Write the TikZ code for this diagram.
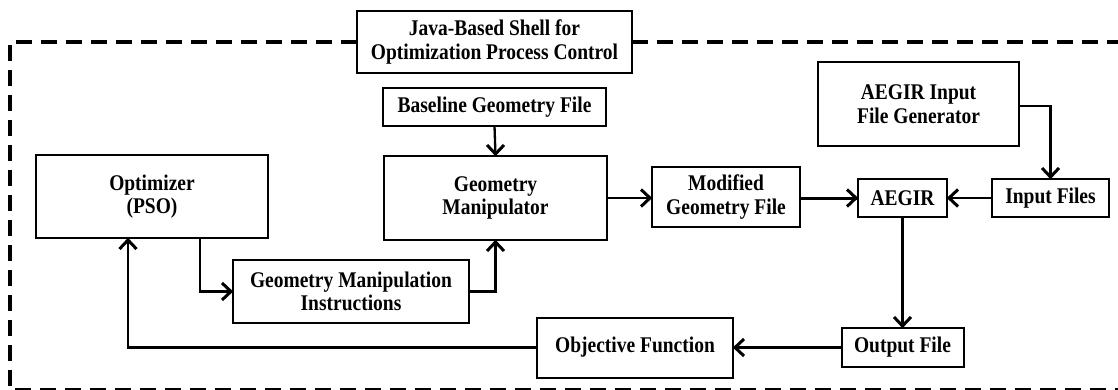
\documentclass[tikz,border=0pt]{standalone}
\usepackage{fontspec}
\setmainfont{Liberation Serif}[FakeStretch=0.87]
\usetikzlibrary{calc}
\newcommand\barbat[2]{\draw[barbline,shift={(#1)},rotate=#2] (-11,-8.5) -- (-2,0) -- (-11,8.5);}
\begin{document}
\begin{tikzpicture}[x=1pt,y=-1pt,
  box/.style={draw,line width=2pt,inner sep=0pt,outer sep=0pt,align=center,
     font=\bfseries\fontsize{22.4}{23.5}\selectfont},
  arr/.style={line width=2.3pt},
  thickarr/.style={line width=3pt},
  barbline/.style={line width=3pt,miter limit=10},
  frame/.style={line width=3.8pt,dash pattern=on 16pt off 9pt}]
\useasboundingbox (0,0) rectangle (1118,390);
% boxes
\node[box,minimum width=275pt,minimum height=62pt] (java) at (494.5,42) {Java-Based Shell for\\Optimization Process Control};
\node[box,minimum width=223pt,minimum height=38pt] (base) at (494.5,107) {Baseline Geometry File};
\node[box,minimum width=223pt,minimum height=84pt] (gm) at (495.5,198) {Geometry\\Manipulator};
\node[box,minimum width=232pt,minimum height=83pt] (opt) at (152,196.5) {Optimizer\\(PSO)};
\node[box,minimum width=236pt,minimum height=63pt] (gmi) at (351,291.5) {Geometry Manipulation\\Instructions};
\node[box,minimum width=148pt,minimum height=60pt] (mgf) at (726,197) {Modified\\Geometry File};
\node[box,minimum width=89pt,minimum height=38pt] (aegir) at (902.5,198) {AEGIR};
\node[box,minimum width=117pt,minimum height=38pt] (inp) at (1050.5,198) {Input Files};
\node[box,minimum width=201pt,minimum height=84pt] (gen) at (918.5,104) {AEGIR Input\\File Generator};
\node[box,minimum width=122pt,minimum height=39pt] (out) at (902.5,347.5) {Output File};
\node[box,minimum width=196pt,minimum height=60pt] (obj) at (635,347.5) {Objective Function};
% frame
\draw[frame] (java.west |- 0,42) -- (10,42) -- (10,390) -- (1125,390);
\draw[frame] (java.east |- 0,42) -- (1125,42);
% connector helper points
\coordinate (optout) at (200,238);
\coordinate (optin) at (128,238);
\coordinate (genout) at (1019,106);
\coordinate (gmin) at (gm.east -| mgf.west);
\coordinate (mgfout) at (mgf.east |- aegir.west);
% connectors
\draw[arr] (base.south) -- (gm.north);
\draw[arr] (optout) |- (gmi.west);
\draw[thickarr] (gmi.east) -| (gm.south);
\draw[arr] (gm.east) -- (gmin);
\draw[thickarr] (mgfout) -- (aegir.west);
\draw[arr] (inp.west) -- (aegir.east);
\draw[arr] (genout) -| (inp.north);
\draw[arr] (aegir.south) -- (out.north);
\draw[arr] (out.west) -- (obj.east);
\draw[arr] (obj.west) -| (optin);
% arrowheads
\barbat{gm.north}{-90}
\barbat{gmi.west}{0}
\barbat{gm.south}{90}
\barbat{gmin}{0}
\barbat{aegir.west}{0}
\barbat{aegir.east}{180}
\barbat{inp.north}{-90}
\barbat{out.north}{-90}
\barbat{obj.east}{180}
\barbat{optin}{90}
\end{tikzpicture}
\end{document}
